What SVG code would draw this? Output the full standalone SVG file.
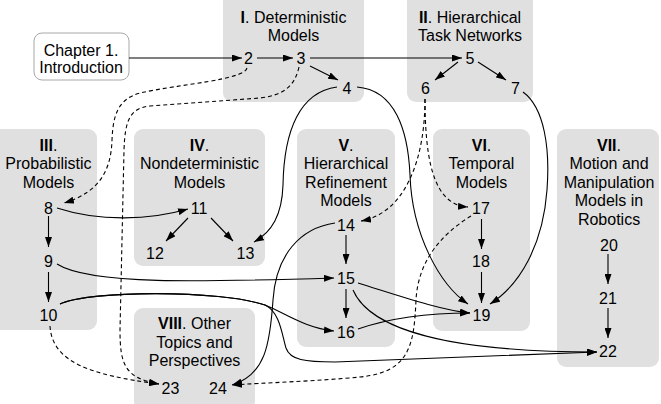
<svg xmlns="http://www.w3.org/2000/svg" width="661" height="404" viewBox="0 0 661 404">
<defs>
<style>
.box{fill:#e0e0e0;stroke:none}
.intro{fill:#fff;stroke:#a8a8a8;stroke-width:1}
text{font-family:"Liberation Sans",Arial,Helvetica,sans-serif;font-size:16px;fill:#000;text-anchor:middle}
.b{font-weight:bold}
.e{fill:none;stroke:#000;stroke-width:1.1}
.d{stroke-dasharray:4,3}
.a{marker-end:url(#arr)}
</style>
<marker id="arr" markerUnits="userSpaceOnUse" markerWidth="10" markerHeight="7" refX="10" refY="3.5" orient="auto">
<path d="M0,0 L10,3.5 L0,7 z" fill="#000"/>
</marker>
</defs>
<rect width="661" height="404" fill="#fff"/>

<g id="intro">
<rect class="intro" x="34" y="33" width="95" height="47" rx="8"/>
<text x="81" y="55.5">Chapter 1.</text>
<text x="81" y="73">Introduction</text>
</g>

<g id="part1">
<rect class="box" x="223" y="-8" width="141" height="110" rx="9"/>
<text x="293.5" y="23"><tspan class="b">I</tspan>. Deterministic</text>
<text x="293.5" y="41">Models</text>
</g>
<g id="part2">
<rect class="box" x="407" y="-8" width="126" height="110" rx="9"/>
<text x="470" y="23"><tspan class="b">II</tspan>. Hierarchical</text>
<text x="470" y="41">Task Networks</text>
</g>
<g id="part3">
<rect class="box" x="-10" y="129" width="107" height="201" rx="9"/>
<text x="48.5" y="150.5"><tspan class="b">III</tspan>.</text>
<text x="48.5" y="169">Probabilistic</text>
<text x="48.5" y="187.5">Models</text>
</g>
<g id="part4">
<rect class="box" x="134" y="129" width="131" height="137" rx="9"/>
<text x="199.5" y="150.5"><tspan class="b">IV</tspan>.</text>
<text x="199.5" y="169">Nondeterministic</text>
<text x="199.5" y="187.5">Models</text>
</g>
<g id="part5">
<rect class="box" x="297" y="129" width="98" height="218" rx="9"/>
<text x="346" y="150.5"><tspan class="b">V</tspan>.</text>
<text x="346" y="169">Hierarchical</text>
<text x="346" y="187.5">Refinement</text>
<text x="346" y="206">Models</text>
</g>
<g id="part6">
<rect class="box" x="433" y="129" width="97" height="202" rx="9"/>
<text x="481.5" y="150.5"><tspan class="b">VI</tspan>.</text>
<text x="481.5" y="169">Temporal</text>
<text x="481.5" y="187.5">Models</text>
</g>
<g id="part7">
<rect class="box" x="557" y="129" width="102" height="238" rx="9"/>
<text x="609" y="150.5"><tspan class="b">VII</tspan>.</text>
<text x="609" y="169">Motion and</text>
<text x="609" y="187.5">Manipulation</text>
<text x="609" y="206">Models in</text>
<text x="609" y="224.5">Robotics</text>
</g>
<g id="part8">
<rect class="box" x="134" y="308" width="121" height="102" rx="9"/>
<text x="194.5" y="329"><tspan class="b">VIII</tspan>. Other</text>
<text x="194.5" y="347.5">Topics and</text>
<text x="194.5" y="366">Perspectives</text>
</g>

<g id="n2"><text x="248.5" y="63.5">2</text></g>
<g id="n3"><text x="301" y="63.5">3</text></g>
<g id="n4"><text x="347" y="93.5">4</text></g>
<g id="n5"><text x="470" y="63.5">5</text></g>
<g id="n6"><text x="425.5" y="93.5">6</text></g>
<g id="n7"><text x="515.5" y="93.5">7</text></g>
<g id="n8"><text x="48.5" y="213.5">8</text></g>
<g id="n9"><text x="48.5" y="267">9</text></g>
<g id="n10"><text x="48.5" y="320.5">10</text></g>
<g id="n11"><text x="199" y="213.5">11</text></g>
<g id="n12"><text x="155" y="258.5">12</text></g>
<g id="n13"><text x="245.5" y="258.5">13</text></g>
<g id="n14"><text x="346" y="230.5">14</text></g>
<g id="n15"><text x="346" y="283.5">15</text></g>
<g id="n16"><text x="346" y="337.5">16</text></g>
<g id="n17"><text x="481" y="213.5">17</text></g>
<g id="n18"><text x="481" y="267">18</text></g>
<g id="n19"><text x="481.5" y="320.5">19</text></g>
<g id="n20"><text x="609" y="250.5">20</text></g>
<g id="n21"><text x="608" y="303.5">21</text></g>
<g id="n22"><text x="608" y="357">22</text></g>
<g id="n23"><text x="170.5" y="393.5">23</text></g>
<g id="n24"><text x="218" y="393.5">24</text></g>

<g id="connectors">
<path class="e a" d="M129,58 L242,58"/>
<path class="e a" d="M257,58 L293,58"/>
<path class="e a" d="M310,58 L462,58"/>
<path class="e a" d="M310,66 L338,80"/>
<path class="e a" d="M458,62 L435,80"/>
<path class="e a" d="M478,62 L506,80"/>
<path class="e a" d="M48.5,216 L48.5,247"/>
<path class="e a" d="M188,218 L166,241"/>
<path class="e a" d="M211,218 L233,241"/>
<path class="e a" d="M48.5,272 L48.5,302"/>
<path class="e a" d="M346,235 L346,264"/>
<path class="e a" d="M346,289 L346,318"/>
<path class="e a" d="M481.5,219 L481.5,249"/>
<path class="e a" d="M481.5,272 L481.5,303"/>
<path class="e a" d="M608,254 L608,284"/>
<path class="e a" d="M608,308 L608,338"/>

<path class="e a" d="M337,87 C300,92 284,130 283,185 C282,215 272,232 254,242"/>
<path class="e a" d="M357,87 C395,90 408,130 410,175 C412,235 440,285 468,304"/>
<path class="e a" d="M523,92 C545,108 550,150 547,190 C543,245 520,285 490,304"/>
<path class="e a" d="M57,208 C100,222 150,220 188,209"/>
<path class="e a" d="M57,264 C90,285 200,282 334,278"/>
<path class="e a" d="M60,304 C90,290 220,290 265,305 C285,313 305,328 334,331"/>
<path class="e a" d="M60,304 C90,290 220,290 265,305 C280,312 282,335 286,348 C290,360 305,362 335,362 L597,352"/>
<path class="e a" d="M335,223 C300,228 276,255 273,300 C270,345 265,375 232,385"/>
<path class="e a" d="M358,283 C400,296 440,310 470,313"/>
<path class="e a" d="M358,329 C390,318 430,313 470,313"/>
<path class="e a" d="M353,290 C370,330 450,352 597,352"/>

<path class="e d a" d="M247,68 C244,80 180,84 140,93 C118,99 113,115 112,140 C111,170 100,192 64,203"/>
<path class="e d a" d="M299,67 C295,85 285,95 260,98 L150,106 C130,108 125,120 124,150 L120,330 C120,365 125,378 159,384"/>
<path class="e d a" d="M50,326 C52,362 90,375 159,384"/>
<path class="e d a" d="M425,99 C425,160 405,213 361,221"/>
<path class="e d a" d="M425,99 C425,170 437,205 468,207"/>
<path class="e d a" d="M471,216 C440,235 418,262 416,300 C414,345 410,372 360,377 C320,381 260,383 232,385"/>
</g>
</svg>
